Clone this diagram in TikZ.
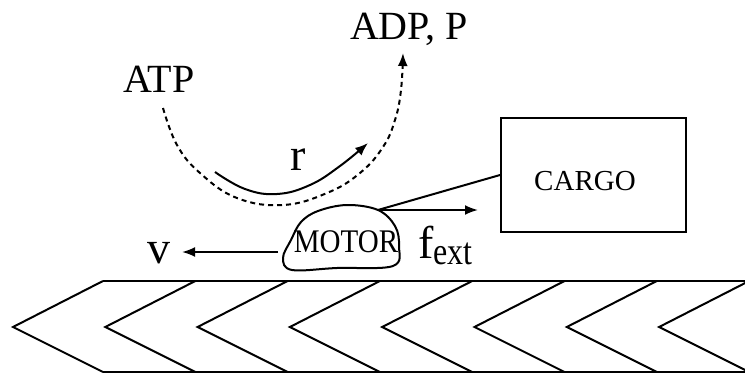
\documentclass[tikz,border=0pt]{standalone}
\usepackage{fontspec}
\setmainfont{Liberation Serif}
\usetikzlibrary{arrows.meta}

\tikzset{
  line/.style={line width=2pt},
  tip/.style={-{Latex[length=13pt,width=10pt]}},
  dashline/.style={line, dash pattern=on 5pt off 4pt},
  bigtext/.style={font=\fontsize{40}{42}\selectfont, inner sep=0pt},
  hugetext/.style={font=\fontsize{46}{48}\selectfont, inner sep=0pt},
  boxtext/.style={font=\fontsize{29}{30}\selectfont, inner sep=0pt},
}

\begin{document}
\begin{tikzpicture}[x=1pt, y=-1pt]
  \useasboundingbox (0,0) rectangle (745,375);
  \clip (0,0) rectangle (745,375);

  % filament: two rails with a row of chevrons pointing left
  \draw[line] (103,281) -- (750,281);
  \draw[line] (103,372) -- (750,372);
  \foreach \k in {0,...,7} {
    \pgfmathsetmacro{\tx}{13+92.3*\k}
    \draw[line, line join=miter] (\tx+90,281) -- (\tx,327) -- (\tx+90,372);
  }

  % labels
  \node[bigtext, anchor=base] (atp) at (159,92) {ATP};
  \node[bigtext, anchor=base] (adp) at (409,39) {ADP, P};
  \node[hugetext, anchor=base] (r) at (298,170) {r};
  \node[hugetext, anchor=base] (v) at (159,263) {v};
  \node[hugetext, anchor=base west] (fext) at (418,258)
    {f\raisebox{-6pt}{\scalebox{1}[1.2]{\fontsize{32}{33}\selectfont ext}}};

  % motor head
  \node[boxtext, anchor=base] (motor) at (346,252)
    {\scalebox{0.88}[1]{\fontsize{33}{34}\selectfont MOTOR}};
  \draw[line, line join=round] plot[smooth cycle, tension=0.6] coordinates {
    (378,210) (347,205) (318,211) (301,222) (291,240) (283,258)
    (292,270) (337,268) (393,266) (399,246) (395,226)};
  \coordinate (att) at (378,210);

  % cargo
  \node[draw, line, minimum width=185pt, minimum height=114pt, inner sep=0pt]
    (cargo) at (593.5,175) {};
  \node[boxtext, anchor=base] (cargotext) at (585,190) {CARGO};

  % tether and forces
  \coordinate (fend) at (478,210);
  \coordinate (vstart) at (278,252);
  \coordinate (vtip) at (182,252);
  \draw[line] (att) -- (cargo.west);
  \draw[line, tip] (att) -- (fend);
  \draw[line, tip] (vstart) -- (vtip);

  % ATP hydrolysis pathway
  \coordinate (atpfoot) at (163,108);
  \coordinate (adpfoot) at (403,53);
  \draw[dashline, tip] plot[smooth, tension=0.7] coordinates {
    (atpfoot) (177,145) (200,173) (237,198) (283,205) (327,193)
    (360,173) (383,147) (395,120) (401,90) (adpfoot)};

  % reaction rate arc
  \draw[line, tip] plot[smooth, tension=0.7] coordinates {
    (215,172) (245,189) (277,194) (310,185) (340,166) (368,143)};
\end{tikzpicture}
\end{document}
